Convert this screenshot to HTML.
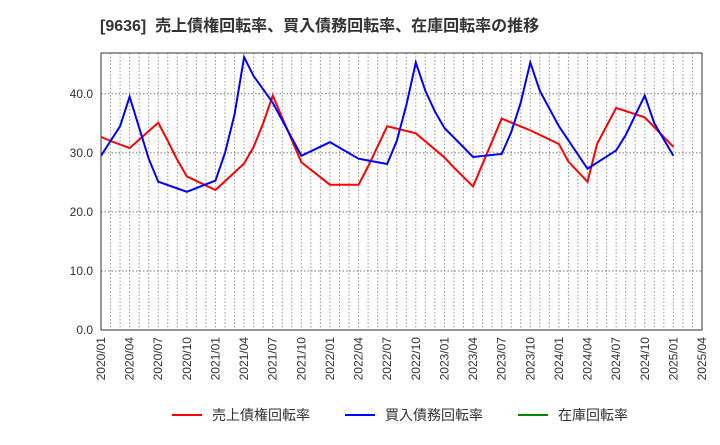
<!DOCTYPE html>
<html><head><meta charset="utf-8"><style>
body{margin:0;background:#fff;font-family:"Liberation Sans","Noto Sans CJK JP",sans-serif;}
</style></head><body>
<svg width="720" height="440" xmlns="http://www.w3.org/2000/svg" id="c" font-family="Liberation Sans, Noto Sans CJK JP, sans-serif">
<text x="100" y="31" font-size="16" font-weight="bold" fill="#333" xml:space="preserve">[9636]  売上債権回転率、買入債務回転率、在庫回転率の推移</text>
<g id="grid"></g><g id="axes"></g><g id="series"></g>
<g>
<line x1="172" y1="415" x2="202" y2="415" stroke="#f00" stroke-width="2"/>
<text x="212" y="420" font-size="14" fill="#333">売上債権回転率</text>
<line x1="345" y1="415" x2="375" y2="415" stroke="#00f" stroke-width="2"/>
<text x="385" y="420" font-size="14" fill="#333">買入債務回転率</text>
<line x1="518" y1="415" x2="548" y2="415" stroke="#080" stroke-width="2"/>
<text x="558" y="420" font-size="14" fill="#333">在庫回転率</text>
</g>
</svg>
<script>
const yTicks=[0,10,20,30,40];
const xLabels=["2020/01","2020/04","2020/07","2020/10","2021/01","2021/04","2021/07","2021/10","2022/01","2022/04","2022/07","2022/10","2023/01","2023/04","2023/07","2023/10","2024/01","2024/04","2024/07","2024/10","2025/01","2025/04"];
const redMonths=[0,1,3,6,7,8,9,12,15,16,17,18,21,24,27,28,30,33,36,37,39,42,45,48,49,51,52,54,57,60];
const redValues=[32.7,32,30.8,35.1,32,28.8,26.0,23.7,28.2,31,35,39.7,28.4,24.6,24.6,27.7,34.5,33.3,29.2,27.5,24.3,35.8,33.8,31.5,28.5,25.1,31.5,37.6,36.0,31.0];
const blueMonths=[0,2,3,5,6,9,12,13,14,15,16,18,21,24,27,30,31,32,33,34,35,36,39,42,43,44,45,46,48,51,54,55,57,58,60];
const blueValues=[29.5,34.5,39.5,29,25.1,23.4,25.3,30,36.5,46.2,43,38.5,29.5,31.8,29.0,28.1,32,38,45.3,40.5,37,34.2,29.3,29.8,33.5,38.5,45.3,40.5,34.5,27.3,30.4,33,39.7,35,29.5];
const L=101,R=702,T=53,B=330,YMAX=46.9,NM=63;
const X=m=>L+m*(R-L)/NM, Y=v=>B-v*(B-T)/YMAX;
const ns="http://www.w3.org/2000/svg";
function mk(t,a,p){const e=document.createElementNS(ns,t);for(const k in a)e.setAttribute(k,a[k]);p.appendChild(e);return e;}
const g=document.getElementById('grid'),ax=document.getElementById('axes'),s=document.getElementById('series');
for(let m=1;m<NM;m++){const l=mk('line',{x1:X(m),x2:X(m),y1:T,y2:B,stroke:'#999','stroke-dasharray':'1.5,2','stroke-width':1},g);

}
yTicks.forEach(v=>{if(v>0){const l=mk('line',{x1:L,x2:R,y1:Y(v),y2:Y(v),stroke:'#777','stroke-dasharray':'1.5,2','stroke-width':1},g);

}
const t=mk('text',{x:L-8,y:Y(v)+4,'font-size':12,fill:'#333','text-anchor':'end'},ax);t.textContent=v.toFixed(1);

});
xLabels.forEach((lab,i)=>{const x=X(i*3);const t=mk('text',{x:0,y:0,'font-size':12,fill:'#333','text-anchor':'end',transform:`translate(${x+4},337) rotate(-90)`},ax);t.textContent=lab;

});
const fr=mk('rect',{x:L,y:T,width:R-L,height:B-T,fill:'none',stroke:'#333','stroke-width':1},ax);


function line(ms,vs,c,name){const p=mk('polyline',{points:ms.map((m,i)=>X(m)+','+Y(vs[i])).join(' '),fill:'none',stroke:c,'stroke-width':2},s);

}
line(redMonths,redValues,'#f00','receivables-turnover-line');
line(blueMonths,blueValues,'#00f','payables-turnover-line');
</script>
</body></html>
